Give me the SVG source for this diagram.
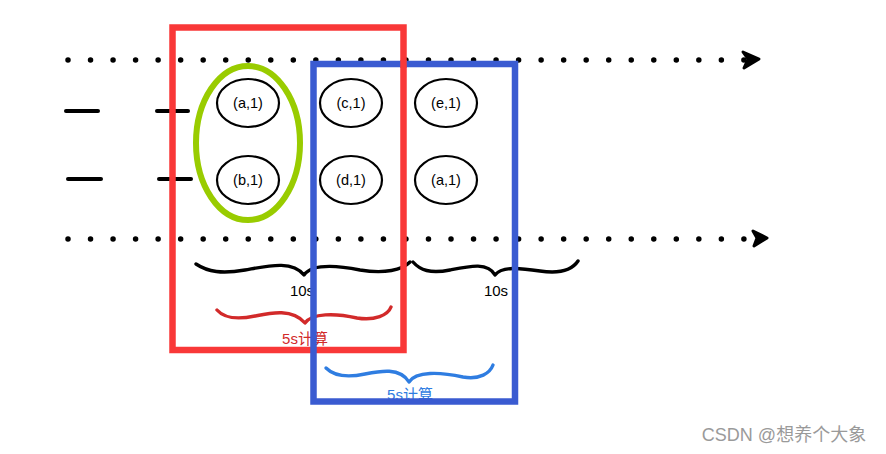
<svg xmlns="http://www.w3.org/2000/svg" width="886" height="454" viewBox="0 0 886 454">
<style>
.dots{stroke:#000;stroke-width:5.5;stroke-linecap:round;stroke-dasharray:0 22.53;fill:none}
.dash{stroke:#000;stroke-width:4;stroke-linecap:round}
.node{fill:#fff;stroke:#000;stroke-width:2.2}
.lbl{font-family:"Liberation Sans",Arial,sans-serif;font-size:14.5px;text-anchor:middle;fill:#000}
.brace{fill:none;stroke-width:3.4;stroke-linecap:round;stroke-linejoin:round}
.cap{font-family:"Liberation Sans","Noto Sans CJK SC",sans-serif;font-size:15px;text-anchor:middle}
.head{fill:#000;stroke:#000;stroke-width:3;stroke-linejoin:round}
</style>
<rect width="886" height="454" fill="#fff"/>
<g id="connectors">
<line class="dots" x1="68" y1="60" x2="745" y2="60"/>
<polygon class="head" points="743,52 759,59 744,68 748,59"/>
<line class="dots" x1="68" y1="239" x2="745" y2="239"/>
<polygon class="head" points="753,231 767,238 754,246 757,238"/>
<line class="dash" x1="66" y1="111" x2="98" y2="111"/>
<line class="dash" x1="157" y1="111" x2="188" y2="111"/>
<line class="dash" x1="68" y1="179" x2="101" y2="179"/>
<line class="dash" x1="159" y1="179" x2="191" y2="179"/>
</g>
<g id="group-ab">
<ellipse cx="248" cy="143" rx="52" ry="77" fill="none" stroke="#99cc00" stroke-width="6"/>
</g>
<g id="node-a1"><ellipse class="node" cx="248" cy="103" rx="31" ry="24"/><text class="lbl" x="248" y="108">(a,1)</text></g>
<g id="node-b1"><ellipse class="node" cx="248" cy="180" rx="31" ry="24"/><text class="lbl" x="248" y="185">(b,1)</text></g>
<g id="node-c1"><ellipse class="node" cx="351" cy="103" rx="31" ry="24"/><text class="lbl" x="351" y="108">(c,1)</text></g>
<g id="node-d1"><ellipse class="node" cx="351" cy="180" rx="31" ry="24"/><text class="lbl" x="351" y="185">(d,1)</text></g>
<g id="node-e1"><ellipse class="node" cx="446" cy="103" rx="31" ry="24"/><text class="lbl" x="446" y="108">(e,1)</text></g>
<g id="node-a1b"><ellipse class="node" cx="446" cy="180" rx="31" ry="24"/><text class="lbl" x="446" y="185">(a,1)</text></g>
<g id="braces">
<path class="brace" stroke="#000" d="M196,264 C208,272 222,274 245,270 C268,266 292,260 304,275 C312,264 335,265 360,270 C385,274 402,270 410,262"/>
<path class="brace" stroke="#000" d="M413,262 C420,270 430,274 450,270 C470,266 488,262 495,275 C502,266 520,268 540,271 C560,274 572,270 578,261"/>
<text class="cap" x="302" y="296" fill="#000">10s</text>
<text class="cap" x="496" y="296" fill="#000">10s</text>
<path class="brace" stroke="#d22a2a" d="M217,310 C224,318 236,320 255,316 C270,313 292,308 305,323 C312,313 335,313 357,318 C375,321 388,315 391,307"/>
<text class="cap" x="305" y="344" fill="#d22a2a">5s计算</text>
<path class="brace" stroke="#2f7de1" d="M326,368 C334,376 346,378 365,374 C380,371 400,367 409,382 C416,371 440,372 463,377 C480,380 490,373 493,365"/>
<text class="cap" x="410" y="400" fill="#2f7de1">5s计算</text>
</g>
<g id="window-red">
<rect x="172.5" y="27.5" width="231" height="322.5" fill="none" stroke="#f93838" stroke-width="6.5"/>
</g>
<g id="window-blue">
<rect x="313.5" y="64" width="201.5" height="337.5" fill="none" stroke="#3a5bd1" stroke-width="6.5"/>
<line x1="403.5" y1="60" x2="403.5" y2="68" stroke="#f93838" stroke-width="6.5"/>
</g>
<text x="784" y="441" font-family="'Liberation Sans','Noto Sans CJK SC',sans-serif" font-size="18" fill="#9a9a9a" text-anchor="middle">CSDN @想养个大象</text>
</svg>
